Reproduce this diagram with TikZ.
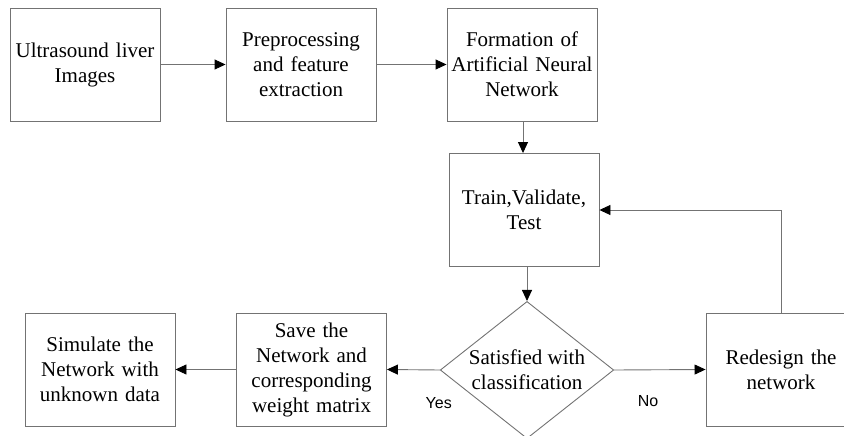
\documentclass[tikz,border=0pt]{standalone}
\usepackage{fontspec}
\setmainfont{Liberation Serif}
\setsansfont{Liberation Sans}
\usetikzlibrary{shapes.geometric}
\usetikzlibrary{arrows.meta}

\tikzset{
    blk/.style={draw=black!55, line width=0.9pt, minimum width=150pt, minimum height=113pt,
        inner sep=1pt, text width=148pt, align=center, font=\fontsize{21}{25}\selectfont},
    dec/.style={diamond, draw=black!55, line width=0.9pt, shape aspect=1.265, inner sep=1.5pt,
        align=center, font=\fontsize{21}{25}\selectfont},
    arr/.style={draw=black!55, line width=0.9pt, -{Triangle[length=11pt,width=10pt,black]}},
    lbl/.style={font=\sffamily\fontsize{16}{18}\selectfont},
}

\begin{document}
\begin{tikzpicture}[x=1pt, y=-1pt]
        \useasboundingbox (0,0) rectangle (844,436);
        \node [blk] (ultra) at (85,64.5) {Ultrasound liver\\Images};
        \node [blk] (prep) at (301,64.5) {Preprocessing\\and feature\\extraction};
        \node [blk] (form) at (522,64.5) {Formation of\\Artificial Neural\\Network};
        \node [blk] (train) at (524,210) {Train,Validate,\\Test};
        \node [dec] (sat) at (527,370) {Satisfied with\\classification};
        \node [blk] (save) at (311.5,369.5) {Save the\\Network and\\corresponding\\weight matrix};
        \node [blk] (sim) at (100,369.5) {Simulate the\\Network with\\unknown data};
        \node [blk] (redes) at (781,369.5) {Redesign the\\network};

        \draw [arr] (ultra) -- (prep);
        \draw [arr] (prep) -- (form);
        \draw [arr] (form.south -| 523,0) -- (train.north -| 523,0);
        \draw [arr] (train.south -| sat.north) -- (sat.north);
        \draw [arr] (sat.west) -- node [lbl, pos=0.02, below=24pt] {Yes} (save.east);
        \draw [arr] (save) -- (sim);
        \draw [arr] (sat.east) -- node [lbl, pos=0.37, below=22pt] {No} (redes.west);
        \draw [arr] (redes.north) |- (train.east);
    \end{tikzpicture}
\end{document}
